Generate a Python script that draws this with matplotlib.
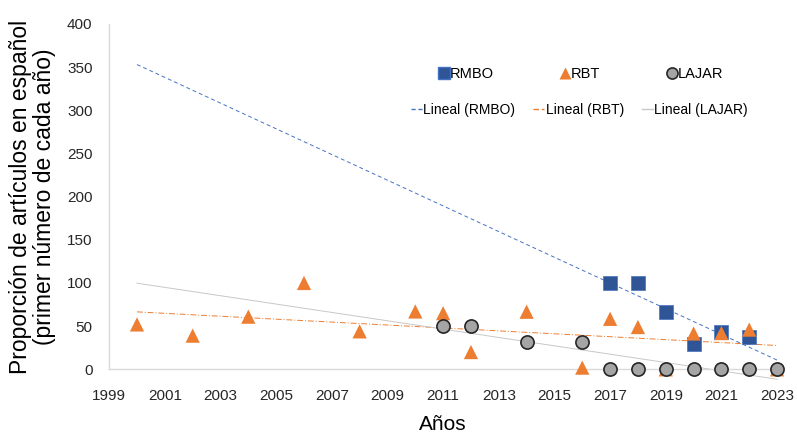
import numpy as np
import matplotlib
matplotlib.use("Agg")
import matplotlib.pyplot as plt
from matplotlib.lines import Line2D

plt.rcParams['font.family'] = ['Liberation Sans', 'DejaVu Sans']

rmbo_years = [2017, 2018, 2019, 2020, 2021, 2022]
rmbo_vals = [100, 100, 66.7, 29.5, 43, 37.5]

rbt_years = [2000, 2002, 2004, 2006, 2008, 2010, 2011, 2012, 2014, 2016, 2017, 2018, 2019, 2020, 2021, 2022, 2023]
rbt_vals = [52, 39, 61, 100, 44, 67, 65, 20, 66.7, 2, 58.5, 49, 0, 41.5, 42, 46, 0]

lajar_years = [2011, 2012, 2014, 2016, 2017, 2018, 2019, 2020, 2021, 2022, 2023]
lajar_vals = [50, 50, 32, 32, 0, 0, 0, 0, 0, 0, 0]

xticks = list(range(1999, 2024, 2))
yticks = list(range(0, 401, 50))

fig = plt.figure(figsize=(7.97, 4.34), dpi=100)
ax = fig.add_axes([0.137, 0.149, 0.838, 0.796])

c_rmbo = '#2F5597'
c_rbt = '#ED7D31'
c_lajar = '#A5A5A5'

trend_x = np.array([2000, 2023])
for yrs, vals, col, ls, lw in [
    (rmbo_years, rmbo_vals, '#4472C4', (0, (4, 3)), 0.7),
    (rbt_years, rbt_vals, '#ED7D31', (0, (6, 2, 1, 2)), 0.7),
    (lajar_years, lajar_vals, '#C8C8C8', '-', 0.7),
]:
    p = np.polyfit(yrs, vals, 1)
    ax.plot(trend_x, np.polyval(p, trend_x), color=col, ls=ls, lw=lw, zorder=2, clip_on=False)

ax.scatter(rmbo_years, rmbo_vals, marker='s', s=105, color=c_rmbo, edgecolor='#4472C4', lw=0.5, zorder=3, clip_on=False)
ax.scatter(rbt_years, rbt_vals, marker='^', s=105, color=c_rbt, edgecolor='none', zorder=4, clip_on=False)
ax.scatter(lajar_years, lajar_vals, marker='o', s=90, color=c_lajar, edgecolor='#262626', lw=1.2, zorder=5, clip_on=False)

ax.set_xlim(1999, 2023)
ax.set_ylim(0, 400)
ax.set_xticks(xticks)
ax.set_yticks(yticks)
ax.tick_params(axis='both', length=0, labelsize=11, colors='#262626')
ax.tick_params(axis='x', pad=14)
ax.tick_params(axis='y', pad=12)
for s in ['top', 'right']:
    ax.spines[s].set_visible(False)
for s in ['left', 'bottom']:
    ax.spines[s].set_color('#D9D9D9')
    ax.spines[s].set_linewidth(1)

ax.set_xlabel('Años', fontsize=15, labelpad=9)
ax.set_ylabel('Proporción de artículos en español\n(primer número de cada año)', fontsize=16.5, labelpad=8, linespacing=1.05)

h1 = [
    Line2D([], [], ls='none', marker='s', ms=8, color=c_rmbo, markeredgecolor='#4472C4'),
    Line2D([], [], ls='none', marker='^', ms=8, color=c_rbt, markeredgecolor='none'),
    Line2D([], [], ls='none', marker='o', ms=8, color=c_lajar, markeredgecolor='#262626', markeredgewidth=1.2),
]
leg1 = ax.legend(h1, ['RMBO', 'RBT', 'LAJAR'], ncol=3, frameon=False, fontsize=10.5,
                 loc='center', bbox_to_anchor=(0.707, 0.855), columnspacing=4.6, handlelength=0.6,
                 handletextpad=0.1)
ax.add_artist(leg1)
h2 = [
    Line2D([], [], color='#4472C4', ls=(0, (3, 2)), lw=1),
    Line2D([], [], color='#ED7D31', ls=(0, (4, 2)), lw=1),
    Line2D([], [], color='#C8C8C8', ls='-', lw=1),
]
ax.legend(h2, ['Lineal (RMBO)', 'Lineal (RBT)', 'Lineal (LAJAR)'], ncol=3, frameon=False, fontsize=10,
          loc='center', bbox_to_anchor=(0.704, 0.751), columnspacing=1.3, handlelength=0.8,
          handletextpad=0.1)

fig.savefig('out.png', dpi=100)
